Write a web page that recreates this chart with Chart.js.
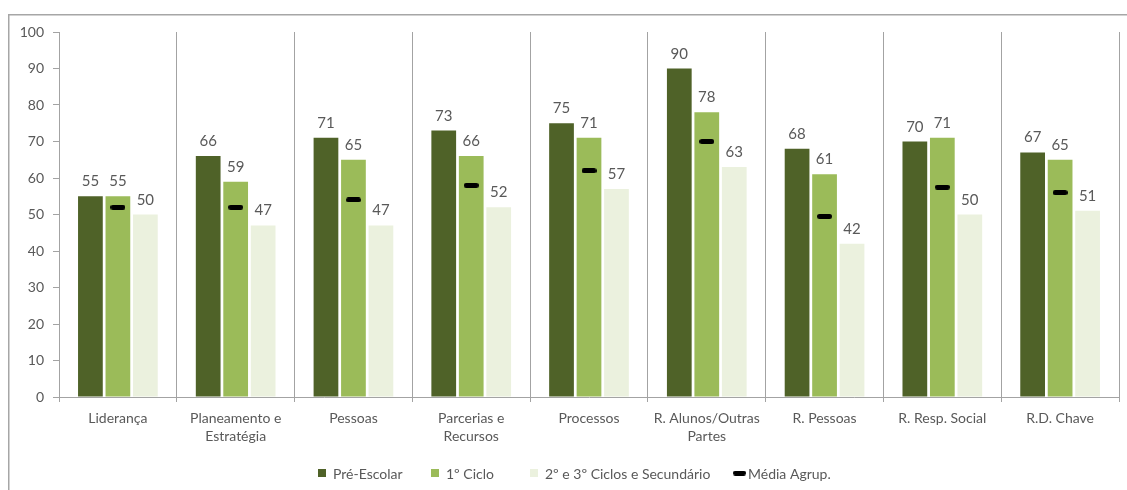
<!DOCTYPE html>
<html>
<head>
<meta charset="utf-8">
<script src="https://cdn.jsdelivr.net/npm/chart.js@4/dist/chart.umd.min.js"></script>
<style>
  html, body { margin: 0; padding: 0; background: #fff; }
  #wrap { position: relative; width: 1127px; height: 490px; }
</style>
</head>
<body>
<div id="wrap"><canvas id="c" width="1127" height="490"></canvas></div>
<script>
// Categories (multi-line labels as arrays)
const categories = [
  ["Liderança"],
  ["Planeamento e", "Estratégia"],
  ["Pessoas"],
  ["Parcerias e", "Recursos"],
  ["Processos"],
  ["R. Alunos/Outras", "Partes"],
  ["R. Pessoas"],
  ["R. Resp. Social"],
  ["R.D. Chave"]
];
const seriesNames = ["Pré-Escolar", "1º Ciclo", "2º e 3º Ciclos e Secundário", "Média Agrup."];
const preEscolar      = [55, 66, 71, 73, 75, 90, 68, 70, 67];
const primeiroCiclo   = [55, 59, 65, 66, 71, 78, 61, 71, 65];
const segundoTerceiro = [50, 47, 47, 52, 57, 63, 42, 50, 51];
const mediaAgrup      = [52, 52, 54, 58, 62, 70, 49.5, 57.5, 56];
const yMin = 0, yMax = 100, yStep = 10;

const FONT = "Lato, 'Liberation Sans', sans-serif";
const TEXT = "#595959";
const GRID = "#a3a3a3";
const COLORS = ["#4f6228", "#9bbb59", "#ebf1de", "#000000"];

// Rounded black dash used as the marker of the average series
function makeDash(w, h) {
  const cv = document.createElement("canvas");
  cv.width = w; cv.height = h;
  const g = cv.getContext("2d");
  g.fillStyle = "#000";
  const r = h / 2;
  g.beginPath();
  g.moveTo(r, 0); g.lineTo(w - r, 0);
  g.arc(w - r, r, r, -Math.PI / 2, Math.PI / 2);
  g.lineTo(r, h);
  g.arc(r, r, r, Math.PI / 2, Math.PI * 1.5);
  g.closePath();
  g.fill();
  return cv;
}
const dash = makeDash(15, 5);
const legendDash = makeDash(13, 5);

// White background and outer frame
const framePlugin = {
  id: "frame",
  beforeDraw(chart) {
    const c = chart.ctx;
    c.save();
    c.fillStyle = "#fff";
    c.fillRect(0, 0, chart.width, chart.height);
    c.strokeStyle = "#a6a6a6";
    c.lineWidth = 1.5;
    c.strokeRect(8.75, 14.75, 1140, 500);
    c.restore();
  }
};

// Value labels above the bars
const valueLabelPlugin = {
  id: "valueLabels",
  afterDatasetsDraw(chart) {
    const c = chart.ctx;
    c.save();
    c.font = "15px " + FONT;
    c.fillStyle = TEXT;
    c.textAlign = "center";
    c.textBaseline = "alphabetic";
    chart.data.datasets.forEach((ds, i) => {
      if (ds.type === "line") return;
      const meta = chart.getDatasetMeta(i);
      meta.data.forEach((bar, j) => {
        c.fillText(String(ds.data[j]), bar.x, bar.y - 10);
      });
    });
    c.restore();
  }
};

// Legend row at the bottom; each entry starts at its own x
const legendStarts = [318, 431, 530, 733];
const legendPlugin = {
  id: "legendRow",
  afterDraw(chart) {
    const c = chart.ctx;
    c.save();
    c.font = "14px " + FONT;
    c.textBaseline = "middle";
    c.textAlign = "left";
    const cy = 473;
    chart.data.datasets.forEach((ds, i) => {
      let x = legendStarts[i];
      if (ds.type === "line") {
        c.drawImage(legendDash, x, cy - 2.5);
        x += 15;
      } else {
        c.fillStyle = COLORS[i];
        c.fillRect(x, cy - 4, 8, 8);
        x += 15;
      }
      c.fillStyle = TEXT;
      c.fillText(ds.label, x, cy + 1);
    });
    c.restore();
  }
};

const barCommon = { categoryPercentage: 0.7, barPercentage: 0.9, borderWidth: 0 };

new Chart(document.getElementById("c"), {
  type: "bar",
  data: {
    labels: categories,
    datasets: [
      Object.assign({ label: seriesNames[0], data: preEscolar, backgroundColor: COLORS[0] }, barCommon),
      Object.assign({ label: seriesNames[1], data: primeiroCiclo, backgroundColor: COLORS[1] }, barCommon),
      Object.assign({ label: seriesNames[2], data: segundoTerceiro, backgroundColor: COLORS[2] }, barCommon),
      {
        type: "line",
        label: seriesNames[3],
        data: mediaAgrup,
        showLine: false,
        pointStyle: dash,
        pointRadius: 7,
        pointHoverRadius: 7,
        borderColor: "#000",
        backgroundColor: "#000",
        order: -1
      }
    ]
  },
  options: {
    responsive: false,
    animation: false,
    devicePixelRatio: 1,
    layout: { padding: { left: 0, right: 4, top: 32, bottom: 33 } },
    plugins: {
      legend: { display: false },
      tooltip: { enabled: false }
    },
    scales: {
      x: {
        afterFit(scale) {
          scale.height = 60;
          scale.paddingLeft = 0;
          scale.paddingRight = 0;
        },
        grid: {
          offset: true,
          drawOnChartArea: true,
          drawTicks: true,
          tickLength: 5,
          color: GRID,
          lineWidth: 1
        },
        border: { display: true, color: GRID, width: 1 },
        ticks: {
          font: { family: FONT, size: 14, lineHeight: 1.28 },
          color: TEXT,
          padding: 8,
          maxRotation: 0,
          autoSkip: false
        }
      },
      y: {
        min: yMin,
        max: yMax,
        afterFit(scale) { scale.width = 59; },
        grid: {
          drawOnChartArea: false,
          drawTicks: true,
          tickLength: 6,
          color: GRID
        },
        border: { display: true, color: GRID, width: 1 },
        ticks: {
          stepSize: yStep,
          font: { family: FONT, size: 14 },
          color: TEXT,
          padding: 9
        }
      }
    }
  },
  plugins: [framePlugin, valueLabelPlugin, legendPlugin]
});
</script>
</body>
</html>
